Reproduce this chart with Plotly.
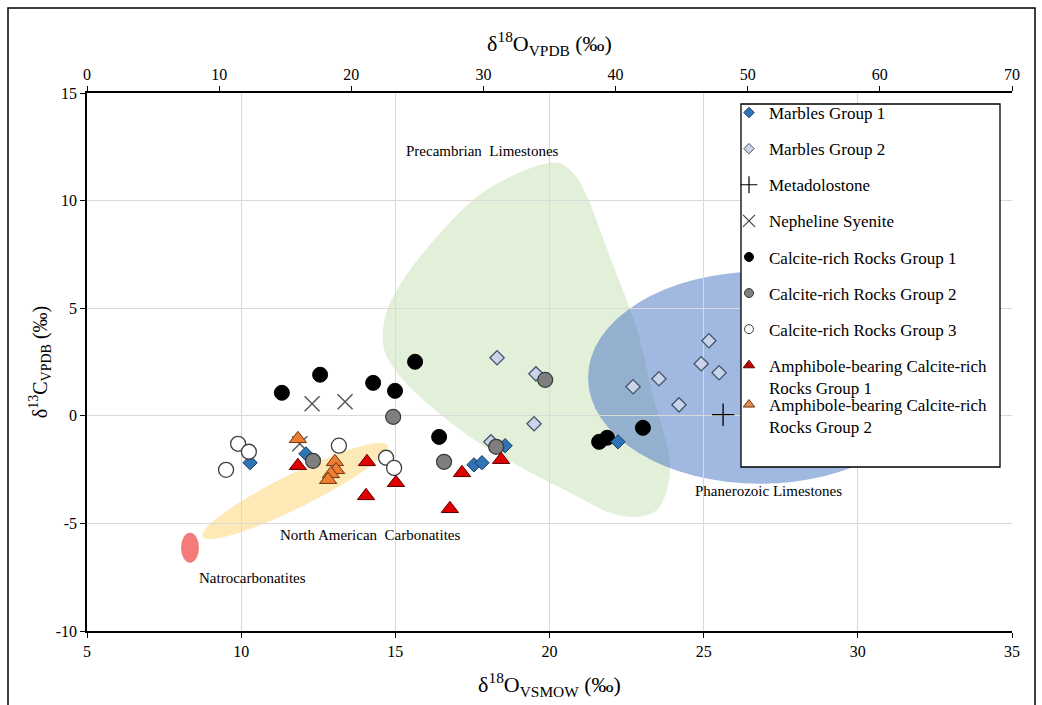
import plotly.graph_objects as go
import numpy as np

FONT = "Liberation Serif, Times New Roman, serif"

# ---- sample isotope data: x = d18O (VSMOW), y = d13C (VPDB) ----
marbles1_x = [10.29, 12.10, 17.55, 17.81, 18.56, 22.22]
marbles1_y = [-2.18, -1.77, -2.28, -2.18, -1.39, -1.21]

marbles2_x = [18.30, 19.56, 19.50, 18.10, 22.71, 23.55, 24.20, 24.92, 25.17, 25.50]
marbles2_y = [2.70, 1.95, -0.37, -1.21, 1.35, 1.72, 0.51, 2.42, 3.49, 2.00]

metadolo_x = [25.63]
metadolo_y = [0.05]

nepheline_x = [12.30, 13.37, 11.90]
nepheline_y = [0.56, 0.65, -1.30]

calcite1_x = [11.32, 12.56, 14.28, 14.99, 15.64, 16.42, 21.61, 21.87, 23.03]
calcite1_y = [1.07, 1.91, 1.53, 1.16, 2.51, -0.98, -1.21, -1.02, -0.56]

calcite2_x = [12.33, 14.93, 16.58, 18.27, 19.86]
calcite2_y = [-2.09, -0.05, -2.14, -1.44, 1.67]

calcite3_x = [9.51, 9.90, 10.25, 13.17, 14.70, 14.96]
calcite3_y = [-2.51, -1.30, -1.67, -1.39, -1.95, -2.42]

amph1_x = [11.84, 14.08, 15.02, 14.05, 17.16, 16.77, 18.43]
amph1_y = [-2.32, -2.14, -3.11, -3.72, -2.65, -4.32, -2.04]

amph2_x = [11.84, 13.04, 13.08, 12.91, 12.82]
amph2_y = [-1.07, -2.14, -2.51, -2.70, -2.97]

# ---- axis ticks ----
x_ticks = [5, 10, 15, 20, 25, 30, 35]
x2_ticks = [0, 10, 20, 30, 40, 50, 60, 70]
y_ticks = [-10, -5, 0, 5, 10, 15]
y_ticklabels = ["-10", "-5", "0", "5", "10", "15"]

# ---- reference fields ----
precambrian_x = [20.02, 18.72, 17.42, 15.80, 14.83, 14.60, 14.83, 15.80, 17.42, 19.04,
                 20.67, 21.96, 22.84, 23.49, 23.81, 23.91, 23.68, 23.36, 22.84, 21.96,
                 21.22, 20.67]
precambrian_y = [11.76, 11.11, 9.90, 7.39, 5.25, 3.67, 2.46, 0.88, -0.98, -2.37,
                 -3.58, -4.51, -4.69, -4.37, -3.44, -2.18, -0.65, 0.88, 4.00, 7.39,
                 10.18, 11.43]

# Plot-area geometry (px) used to convert screen-space ellipse shapes
W, H = 1042, 705
M_L, M_R, M_T, M_B = 87, 30, 93, 74
PLOT_W = W - M_L - M_R
PLOT_H = H - M_T - M_B
X_RANGE = [5, 35]
Y_RANGE = [-10, 15]
PX_X = PLOT_W / (X_RANGE[1] - X_RANGE[0])
PX_Y = PLOT_H / (Y_RANGE[1] - Y_RANGE[0])


def paper_x(px):
    return (px - M_L) / PLOT_W


def paper_y(py):
    return (H - M_B - py) / PLOT_H


def smooth_closed_path(xs, ys):
    """Closed Catmull-Rom spline through the vertices, as an SVG path."""
    n = len(xs)
    pts = list(zip(xs, ys))
    d = f"M{pts[0][0]},{pts[0][1]}"
    for i in range(n):
        p0 = pts[(i - 1) % n]
        p1 = pts[i]
        p2 = pts[(i + 1) % n]
        p3 = pts[(i + 2) % n]
        c1 = (p1[0] + (p2[0] - p0[0]) / 6, p1[1] + (p2[1] - p0[1]) / 6)
        c2 = (p2[0] - (p3[0] - p1[0]) / 6, p2[1] - (p3[1] - p1[1]) / 6)
        d += f" C{c1[0]},{c1[1]} {c2[0]},{c2[1]} {p2[0]},{p2[1]}"
    return d + " Z"


def rotated_ellipse_path(cx, cy, a_px, b_px, angle_deg, n=72):
    """Ellipse defined in screen pixels (rotated counter-clockwise), in data units."""
    t = np.linspace(0, 2 * np.pi, n, endpoint=False)
    ang = np.radians(angle_deg)
    ex = a_px * np.cos(t)
    ey = b_px * np.sin(t)
    rx = ex * np.cos(ang) - ey * np.sin(ang)
    ry = ex * np.sin(ang) + ey * np.cos(ang)
    xs = cx + rx / PX_X
    ys = cy + ry / PX_Y
    d = f"M{xs[0]},{ys[0]}"
    for x, y in zip(xs[1:], ys[1:]):
        d += f" L{x},{y}"
    return d + " Z"


fig = go.Figure()

# series styles (drawing order back to front)
series = [
    dict(name="Nepheline Syenite", x=nepheline_x, y=nepheline_y,
         marker=dict(symbol="x-thin-open", size=15, color="#595959",
                     line=dict(width=1.5, color="#595959")),
         leg=dict(symbol="x-thin-open", size=12, color="#404040",
                  line=dict(width=1.2, color="#404040"))),
    dict(name="Marbles Group 2", x=marbles2_x, y=marbles2_y,
         marker=dict(symbol="diamond", size=11, color="#c9d3ea",
                     line=dict(width=1.3, color="#44546a")),
         leg=dict(symbol="diamond", size=8, color="#c9d3ea",
                  line=dict(width=1, color="#44546a"))),
    dict(name="Calcite-rich Rocks Group 1", x=calcite1_x, y=calcite1_y,
         marker=dict(symbol="circle", size=15, color="#000000",
                     line=dict(width=1, color="#000000")),
         leg=dict(symbol="circle", size=9, color="#000000",
                  line=dict(width=1, color="#000000"))),
    dict(name="Marbles Group 1", x=marbles1_x, y=marbles1_y,
         marker=dict(symbol="diamond", size=11, color="#2e75b6",
                     line=dict(width=1, color="#1f3864")),
         leg=dict(symbol="diamond", size=8, color="#2e75b6",
                  line=dict(width=1, color="#1f3864"))),
    dict(name="Calcite-rich Rocks Group 2", x=calcite2_x, y=calcite2_y,
         marker=dict(symbol="circle", size=15, color="#7f7f7f",
                     line=dict(width=1.2, color="#3a3a3a")),
         leg=dict(symbol="circle", size=9, color="#7f7f7f",
                  line=dict(width=1, color="#3a3a3a"))),
    dict(name="Calcite-rich Rocks Group 3", x=calcite3_x, y=calcite3_y,
         marker=dict(symbol="circle", size=15, color="#ffffff",
                     line=dict(width=1.3, color="#404040")),
         leg=dict(symbol="circle", size=9, color="#ffffff",
                  line=dict(width=1, color="#404040"))),
    dict(name="Amphibole-bearing Calcite-rich<br>Rocks Group 1", x=amph1_x, y=amph1_y,
         marker=dict(symbol="triangle-up", size=15, color="#e00000",
                     line=dict(width=1, color="#5a0000")),
         leg=dict(symbol="triangle-up", size=10, color="#c00000",
                  line=dict(width=1, color="#5a0000"))),
    dict(name="Amphibole-bearing Calcite-rich<br>Rocks Group 2", x=amph2_x, y=amph2_y,
         marker=dict(symbol="triangle-up", size=15, color="#ed7d31",
                     line=dict(width=1, color="#6e3510")),
         leg=dict(symbol="triangle-up", size=10, color="#e08a55",
                  line=dict(width=1, color="#6e3510"))),
    dict(name="Metadolostone", x=metadolo_x, y=metadolo_y,
         marker=dict(symbol="cross-thin-open", size=16, color="#000000",
                     line=dict(width=1.3, color="#000000")),
         leg=dict(symbol="cross-thin-open", size=12, color="#000000",
                  line=dict(width=1.2, color="#000000"))),
]

for s in series:
    fig.add_trace(go.Scatter(x=s["x"], y=s["y"], mode="markers", name=s["name"],
                             marker=s["marker"], showlegend=False, hoverinfo="x+y"))

# legend entries in their display order
legend_order = ["Marbles Group 1", "Marbles Group 2", "Metadolostone", "Nepheline Syenite",
                "Calcite-rich Rocks Group 1", "Calcite-rich Rocks Group 2",
                "Calcite-rich Rocks Group 3",
                "Amphibole-bearing Calcite-rich<br>Rocks Group 1",
                "Amphibole-bearing Calcite-rich<br>Rocks Group 2"]
by_name = {s["name"]: s for s in series}
for i, nm in enumerate(legend_order):
    s = by_name[nm]
    fig.add_trace(go.Scatter(x=[None], y=[None], mode="markers", name=nm,
                             marker=s["leg"], legendgroup=f"g{i}",
                             legend="legend2" if i == len(legend_order) - 1 else "legend",
                             showlegend=True, hoverinfo="skip"))

# keep the top (VPDB) axis attached
fig.add_trace(go.Scatter(x=[None], y=[None], xaxis="x2", yaxis="y", showlegend=False,
                         hoverinfo="skip"))

shapes = [
    # Precambrian limestones field
    dict(type="path", path=smooth_closed_path(precambrian_x, precambrian_y),
         xref="x", yref="y", fillcolor="#e2efd9", line=dict(width=0), layer="below"),
    # Phanerozoic limestones field
    dict(type="circle", xref="x", yref="y", x0=21.25, x1=32.41, y0=-3.16, y1=6.70,
         fillcolor="rgba(68,114,196,0.5)", line=dict(width=0), layer="below"),
    # North American carbonatites field
    dict(type="path", path=rotated_ellipse_path(11.75, -3.49, 103, 17, 26.3),
         xref="x", yref="y", fillcolor="#fde9b6", line=dict(width=0), layer="below"),
    # Natrocarbonatites field
    dict(type="circle", xref="x", yref="y", x0=8.05, x1=8.63, y0=-6.83, y1=-5.43,
         fillcolor="#f37c7a", line=dict(width=0), layer="below"),
    # legend frame
    dict(type="rect", xref="paper", yref="paper", x0=paper_x(741), x1=paper_x(1000),
         y0=paper_y(467), y1=paper_y(104),
         fillcolor="white", line=dict(color="black", width=1.3), layer="above"),
    # outer frame
    dict(type="rect", xref="paper", yref="paper", x0=paper_x(8), x1=paper_x(1035),
         y0=paper_y(712), y1=paper_y(8),
         fillcolor="rgba(0,0,0,0)", line=dict(color="black", width=1.5), layer="above"),
]

annotations = [
    dict(x=17.84, y=12.31, text="Precambrian\u00a0 Limestones"),
    dict(x=27.09, y=-3.49, text="Phanerozoic Limestones"),
    dict(x=14.21, y=-5.53, text="North American\u00a0 Carbonatites"),
    dict(x=10.38, y=-7.53, text="Natrocarbonatites"),
]
for a in annotations:
    a.update(xref="x", yref="y", showarrow=False, font=dict(family=FONT, size=15, color="black"))

legend_style = dict(xanchor="left", yanchor="top", bgcolor="rgba(0,0,0,0)", borderwidth=0,
                    font=dict(family=FONT, size=17, color="black"), itemwidth=30,
                    tracegroupgap=11, valign="top")

fig.update_layout(
    width=W, height=H,
    margin=dict(l=M_L, r=M_R, t=M_T, b=M_B),
    paper_bgcolor="white", plot_bgcolor="white",
    font=dict(family=FONT, color="black"),
    shapes=shapes, annotations=annotations,
    legend=dict(x=paper_x(729), y=paper_y(95), **legend_style),
    legend2=dict(x=paper_x(729), y=paper_y(387), **legend_style),
    xaxis=dict(range=X_RANGE, tickvals=x_ticks, showgrid=True, gridcolor="#d9d9d9",
               gridwidth=1, zeroline=False, showline=True, linecolor="black", linewidth=1.5,
               ticks="outside", ticklen=5, tickcolor="black",
               tickfont=dict(family=FONT, size=16),
               title=dict(text="δ<sup>18</sup>O<sub>VSMOW</sub> (‰)",
                          font=dict(family=FONT, size=22), standoff=18)),
    xaxis2=dict(range=[0, 70], tickvals=x2_ticks, overlaying="x", side="top", anchor="y",
                showgrid=False, zeroline=False, showline=True, linecolor="black",
                linewidth=1.5, ticks="outside", ticklen=5, tickcolor="black",
                tickfont=dict(family=FONT, size=16),
                title=dict(text="δ<sup>18</sup>O<sub>VPDB</sub> (‰)",
                           font=dict(family=FONT, size=22), standoff=8)),
    yaxis=dict(range=Y_RANGE, tickvals=y_ticks, ticktext=y_ticklabels, showgrid=True,
               gridcolor="#d9d9d9", gridwidth=1, zeroline=False, showline=True,
               linecolor="black", linewidth=1.5, ticks="outside", ticklen=5,
               tickcolor="black", tickfont=dict(family=FONT, size=16),
               title=dict(text="δ<sup>13</sup>C<sub>VPDB</sub> (‰)",
                          font=dict(family=FONT, size=20), standoff=3)),
)

fig.write_html("out.html")
